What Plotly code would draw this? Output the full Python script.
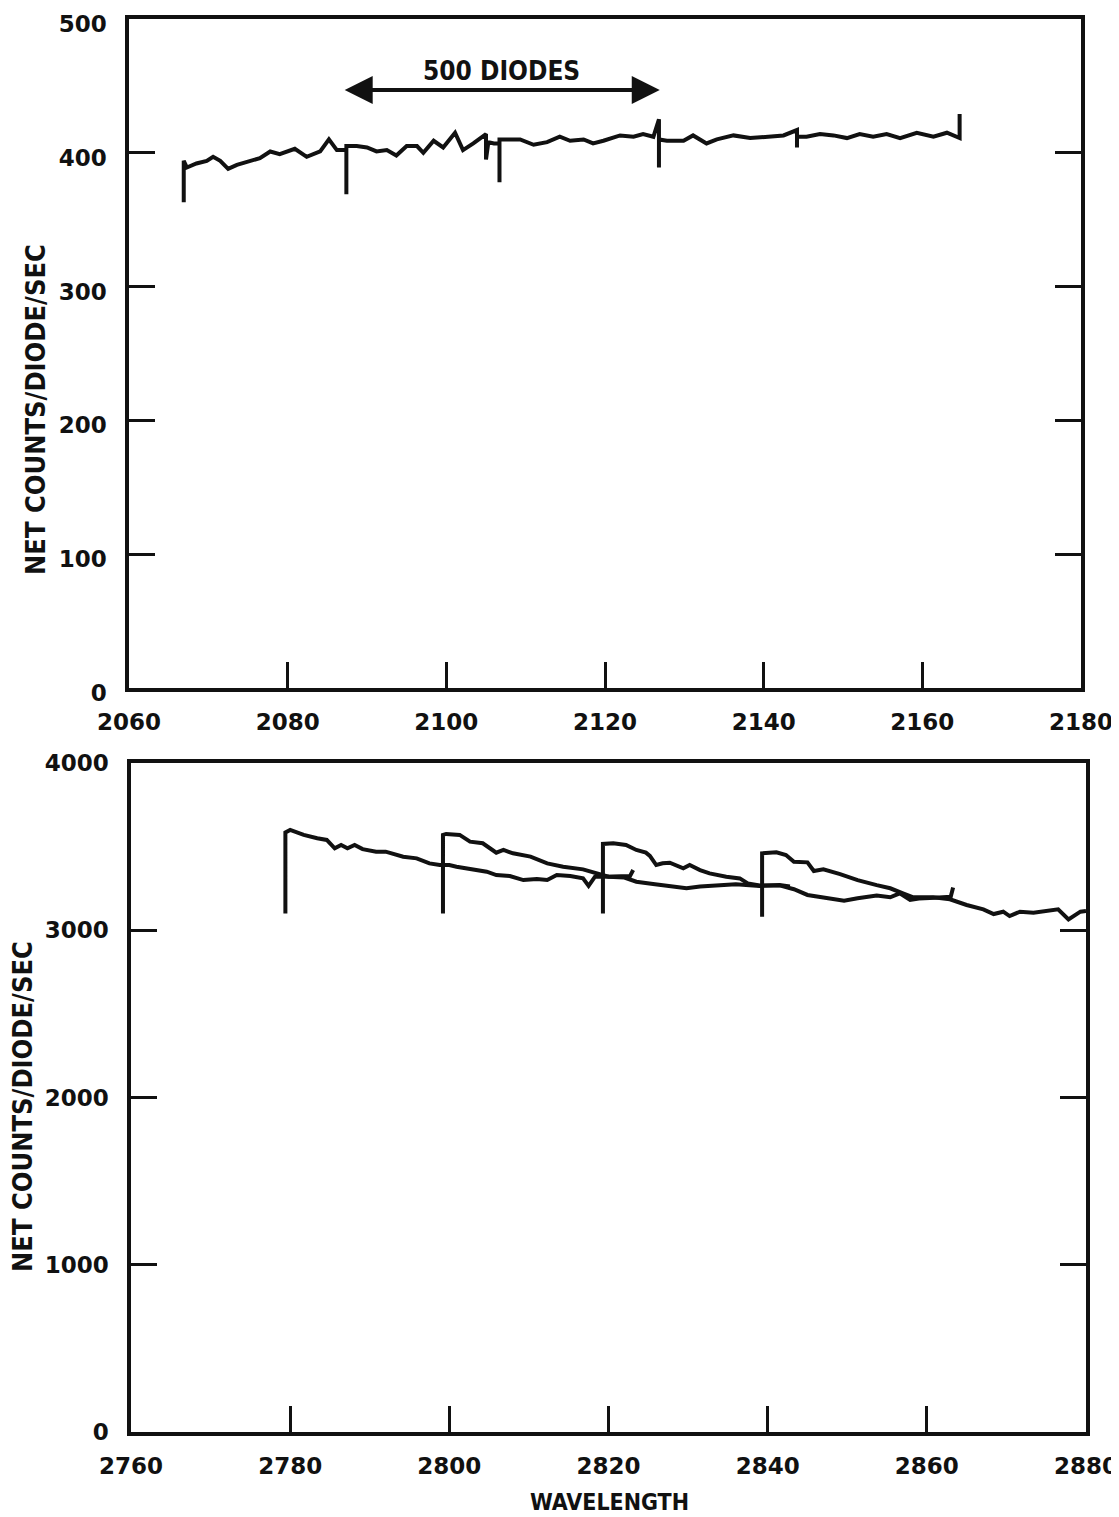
import plotly.graph_objects as go

# ---------------- data ----------------
top_wl = [2066.9, 2066.9, 2067.3, 2068.5, 2069.8, 2070.6, 2071.5, 2072.5, 2073.6, 2075.3,
          2076.5, 2077.8, 2079.0, 2080.9, 2082.4, 2084.1, 2085.2, 2086.2, 2087.4, 2087.4,
          2087.4, 2088.7, 2090.0, 2091.2, 2092.5, 2093.7, 2095.0, 2096.3, 2097.1, 2098.4,
          2099.6, 2101.1, 2102.1, 2103.4, 2104.5, 2105.0, 2105.0, 2105.3, 2106.0, 2106.7,
          2106.7, 2106.7, 2107.2, 2109.3, 2111.0, 2112.7, 2114.3, 2115.6, 2117.3, 2118.5,
          2119.8, 2121.9, 2123.6, 2124.8, 2126.1, 2126.8, 2126.8, 2126.8, 2127.8, 2129.9,
          2131.1, 2132.8, 2134.1, 2136.2, 2138.3, 2140.4, 2142.5, 2144.2, 2144.2, 2144.2,
          2145.4, 2147.1, 2148.8, 2150.5, 2152.1, 2153.8, 2155.5, 2157.2, 2159.3, 2161.4,
          2163.1, 2164.7, 2164.7]
top_counts = [363, 394, 389, 392, 394, 397, 394, 388, 391, 394,
              396, 401, 399, 403, 397, 401, 410, 402, 402, 369,
              405, 405, 404, 401, 402, 398, 405, 405, 400, 409,
              404, 415, 402, 407, 412, 414, 395, 408, 407, 407,
              378, 410, 410, 410, 406, 408, 412, 409, 410, 407,
              409, 413, 412, 414, 412, 425, 389, 410, 409, 409,
              413, 407, 410, 413, 411, 412, 413, 417, 404, 412,
              412, 414, 413, 411, 414, 412, 414, 411, 415, 412,
              415, 411, 429]

segA_wl = [2779.4, 2779.4, 2780.0, 2781.7, 2783.4, 2784.6, 2785.6, 2786.4, 2787.2, 2788.1,
           2789.1, 2790.8, 2792.0, 2794.2, 2795.9, 2797.5, 2798.8, 2800.0, 2800.9, 2802.6,
           2804.7, 2805.9, 2807.6, 2809.3, 2811.0, 2812.3, 2813.5, 2815.2, 2816.8, 2817.5,
           2818.3, 2819.4, 2821.5, 2822.7, 2823.1]
segA_counts = [3100, 3585, 3600, 3570, 3550, 3540, 3490, 3510, 3490, 3510,
               3485, 3470, 3470, 3440, 3430, 3400, 3390, 3390, 3380, 3364,
               3350, 3330, 3324, 3300, 3306, 3300, 3330, 3324, 3310, 3265,
               3320, 3320, 3320, 3324, 3360]

segB_wl = [2799.2, 2799.2, 2799.6, 2801.3, 2802.6, 2804.2, 2805.9, 2806.8, 2808.0, 2810.2,
           2812.3, 2814.3, 2816.8, 2819.0, 2820.0, 2822.0, 2823.5, 2825.6, 2827.7, 2829.8,
           2831.5, 2833.6, 2836.0, 2839.0, 2841.5, 2842.8]
segB_counts = [3100, 3570, 3576, 3570, 3530, 3520, 3464, 3480, 3460, 3440,
               3400, 3380, 3364, 3336, 3320, 3315, 3290, 3277, 3262, 3251,
               3262, 3270, 3275, 3265, 3270, 3262]

segC_wl = [2819.3, 2819.3, 2820.6, 2822.2, 2823.5, 2824.7, 2825.2, 2826.0, 2826.8, 2827.7,
           2829.4, 2830.2, 2831.5, 2832.7, 2834.8, 2836.5, 2837.5, 2839.0, 2841.5, 2843.3,
           2845.0, 2847.0, 2849.6, 2851.3, 2853.7, 2855.4, 2856.6, 2857.9, 2859.0, 2861.0,
           2863.0, 2863.3]
segC_counts = [3100, 3516, 3520, 3510, 3480, 3464, 3445, 3390, 3400, 3404,
               3370, 3390, 3360, 3340, 3320, 3310, 3280, 3268, 3268, 3245,
               3211, 3197, 3177, 3191, 3207, 3197, 3221, 3181, 3190, 3195,
               3200, 3255]

segD_wl = [2839.3, 2839.3, 2841.1, 2842.3, 2843.3, 2845.0, 2845.8, 2847.0, 2849.1, 2851.3,
           2853.7, 2855.4, 2857.0, 2858.3, 2860.8, 2862.9, 2865.0, 2867.1, 2868.4, 2869.6,
           2870.4, 2871.7, 2873.4, 2875.5, 2876.5, 2877.8, 2878.6, 2879.3, 2880.0]
segD_counts = [3080, 3460, 3466, 3450, 3410, 3406, 3354, 3364, 3336, 3300,
               3270, 3251, 3221, 3197, 3197, 3185, 3151, 3125, 3097, 3111,
               3085, 3111, 3105, 3121, 3125, 3065, 3091, 3111, 3115]

top_xticks = [2060, 2080, 2100, 2120, 2140, 2160, 2180]
top_yticks = [0, 100, 200, 300, 400, 500]
bot_xticks = [2760, 2780, 2800, 2820, 2840, 2860, 2880]
bot_yticks = [0, 1000, 2000, 3000, 4000]

diode_span = [2087.0, 2126.9]   # wavelength span of 500 diodes
diode_level = 447
y_title = "NET COUNTS/DIODE/SEC"
x_title = "WAVELENGTH"

# ---------------- figure ----------------
OFF = 8                      # page body margin
W, H = 1119 - OFF, 1517 - OFF
INK = "#111111"
TICKFONT = dict(family="DejaVu Sans, Verdana, sans-serif", size=23, color=INK, weight="bold")
TITLEFONT = dict(family="DejaVu Sans Condensed, Liberation Sans Narrow, Arial Narrow, sans-serif",
                 size=27, color=INK, weight="bold")
XTITLEFONT = dict(TITLEFONT, size=23)
ARROWFONT = dict(TITLEFONT, size=26)
LINE = dict(color=INK, width=4)

fig = go.Figure()
fig.add_trace(go.Scatter(x=top_wl, y=top_counts, mode="lines", line=LINE,
                         xaxis="x", yaxis="y", showlegend=False, hoverinfo="skip"))
for wl, ct in [(segA_wl, segA_counts), (segB_wl, segB_counts),
               (segC_wl, segC_counts), (segD_wl, segD_counts)]:
    fig.add_trace(go.Scatter(x=wl, y=ct, mode="lines", line=LINE,
                             xaxis="x2", yaxis="y2", showlegend=False, hoverinfo="skip"))

common_axis = dict(showgrid=False, zeroline=False, showline=True, linecolor=INK, linewidth=3.5,
                   ticks="inside", ticklen=26, tickwidth=3, tickcolor=INK,
                   tickfont=TICKFONT, automargin=False, ticklabeloverflow="allow")


def px2fx(px):
    return (px - OFF) / W


def py2fy(py):
    return 1 - (py - OFF) / H


fig.update_layout(
    width=W, height=H,
    margin=dict(l=0, r=0, t=0, b=0),
    paper_bgcolor="white", plot_bgcolor="white",
    xaxis=dict(**common_axis, domain=[px2fx(129), px2fx(1081)], range=[2060, 2180],
               tickvals=top_xticks, anchor="y", mirror=True, ticklabelstandoff=11),
    yaxis=dict(**common_axis, domain=[py2fy(688), py2fy(19)], range=[0, 500],
               tickvals=top_yticks, anchor="x", mirror="ticks", ticklabelstandoff=14,
               ticklabelshift=5),
    xaxis2=dict(**common_axis, domain=[px2fx(131), px2fx(1086)], range=[2760, 2880],
                tickvals=bot_xticks, anchor="y2", mirror=True, ticklabelstandoff=11),
    yaxis2=dict(**common_axis, domain=[py2fy(1432), py2fy(763)], range=[0, 4000],
                tickvals=bot_yticks, anchor="x2", mirror="ticks", ticklabelstandoff=14),
)

annotations = [
    dict(text=y_title, x=px2fx(35), y=py2fy(410), xref="paper", yref="paper",
         textangle=-90, showarrow=False, font=TITLEFONT, xanchor="center", yanchor="middle"),
    dict(text=y_title, x=px2fx(22), y=py2fy(1107), xref="paper", yref="paper",
         textangle=-90, showarrow=False, font=TITLEFONT, xanchor="center", yanchor="middle"),
    dict(text=x_title, x=px2fx(610), y=py2fy(1502), xref="paper", yref="paper",
         showarrow=False, font=XTITLEFONT, xanchor="center", yanchor="middle"),
    dict(text="500 DIODES", x=sum(diode_span) / 2, y=diode_level + 14, xref="x", yref="y",
         showarrow=False, font=ARROWFONT, xanchor="center", yanchor="middle"),
    dict(text="", x=diode_span[1], y=diode_level, ax=diode_span[0], ay=diode_level,
         xref="x", yref="y", axref="x", ayref="y", showarrow=True,
         arrowhead=2, startarrowhead=2, arrowside="end+start",
         arrowsize=1.4, startarrowsize=1.4, arrowwidth=4, arrowcolor=INK),
]
fig.update_layout(annotations=annotations)

fig.write_html("out.html")
